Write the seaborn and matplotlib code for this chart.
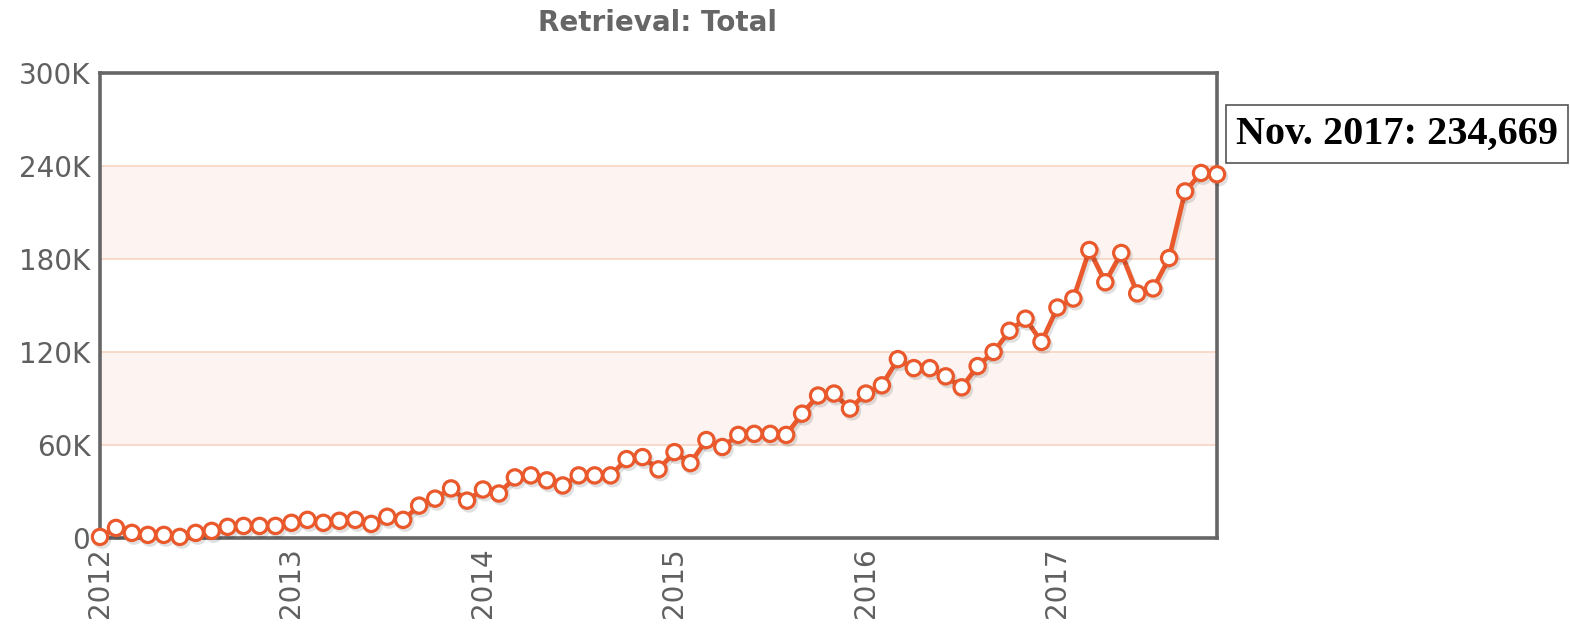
import matplotlib
matplotlib.use("Agg")
import matplotlib.pyplot as plt
import matplotlib.patheffects as pe
import seaborn as sns
import pandas as pd
import numpy as np

# Monthly totals (thousands), Jan 2012 .. Nov 2017
values_k = [0.7, 6.5, 3.3, 2.0, 2.0, 0.7, 3.3, 4.6, 7.2, 7.8,
            7.8, 7.8, 9.8, 11.7, 9.8, 11.1, 11.7, 9.1, 13.7, 11.7,
            20.9, 25.4, 32.0, 24.1, 31.3, 28.7, 39.1, 40.4, 37.2, 33.9,
            40.4, 40.4, 40.4, 50.9, 52.2, 44.3, 55.4, 48.3, 63.2, 58.7,
            66.5, 67.2, 67.2, 66.5, 80.2, 91.9, 93.2, 83.5, 93.2, 98.5,
            115.4, 109.6, 109.6, 104.3, 97.2, 110.9, 120.0, 133.7, 141.5, 126.5,
            148.7, 154.5, 185.8, 165.0, 183.9, 157.8, 161.0, 180.6, 223.6, 235.5,
            234.669]
year_labels = ["2012", "2013", "2014", "2015", "2016", "2017"]
y_ticks = [0, 60000, 120000, 180000, 240000, 300000]
y_tick_labels = ["0", "60K", "120K", "180K", "240K", "300K"]
title = "Retrieval: Total"
annotation = "Nov. 2017: 234,669"

df = pd.DataFrame({"month": np.arange(len(values_k)),
                   "total": np.array(values_k) * 1000})

sns.set_style("white")
fig = plt.figure(figsize=(15.70, 6.29), dpi=100)
ax = fig.add_axes([100 / 1570, 1 - 538 / 629, 1117 / 1570, 465 / 629])

line_color = "#E9592C"
# bands
ax.axhspan(60000, 120000, color="#FDF4F1", zorder=0, lw=0)
ax.axhspan(180000, 240000, color="#FDF4F1", zorder=0, lw=0)
for yv in y_ticks[1:-1]:
    ax.axhline(yv, color="#F8D7C6", lw=1.3, zorder=0.5)

sns.lineplot(data=df, x="month", y="total", ax=ax, color=line_color,
             lw=3.4, marker="o", markersize=11, markerfacecolor="white",
             markeredgecolor=line_color, markeredgewidth=2.3, clip_on=False,
             zorder=3,
             path_effects=[pe.SimpleLineShadow(offset=(1.5, -2), shadow_color="#000000", alpha=0.12, rho=1),
                           pe.Normal()])

ax.set_xlim(0, len(values_k) - 1)
ax.set_ylim(0, 300000)
ax.set_yticks(y_ticks)
ax.set_yticklabels(y_tick_labels)
ax.set_xticks([i * 12 for i in range(len(year_labels))])
ax.set_xticklabels(year_labels, rotation=90)
ax.tick_params(axis="y", length=0, pad=7, labelsize=20, labelcolor="#606060")
ax.tick_params(axis="x", length=0, pad=7, labelsize=20, labelcolor="#606060")
ax.set_xlabel("")
ax.set_ylabel("")
for s in ax.spines.values():
    s.set_visible(True)
    s.set_color("#666666")
    s.set_linewidth(2.6)
    s.set_zorder(2)

fig.text(658 / 1570, 1 - 23 / 629, title, ha="center", va="center",
         fontsize=20, fontweight="bold", color="#666666")

fig.text(1397 / 1570, 1 - 134 / 629, annotation, ha="center", va="center",
         fontsize=29, fontweight="bold", family="Liberation Serif", color="black",
         bbox=dict(boxstyle="square,pad=0.25", fc="white", ec="#555555", lw=1.2))

fig.savefig("out.png", dpi=100)
